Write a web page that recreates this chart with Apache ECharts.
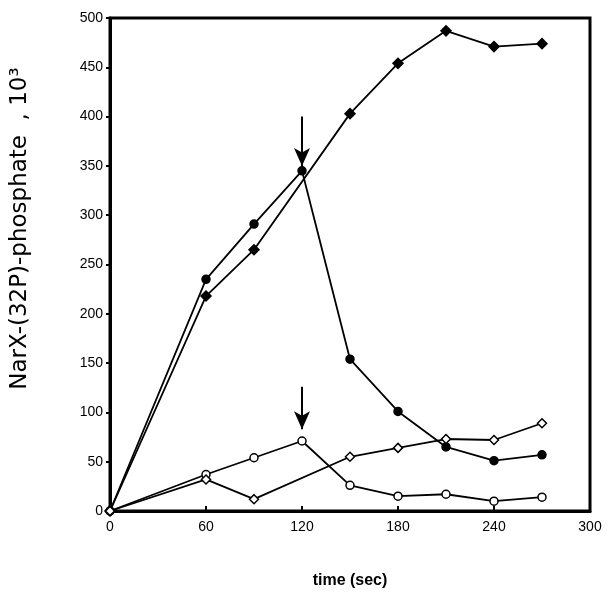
<!DOCTYPE html>
<html><head><meta charset="utf-8">
<script src="https://cdn.jsdelivr.net/npm/echarts@6/dist/echarts.min.js"></script>
<style>html,body{margin:0;padding:0;background:#fff}#c{width:609px;height:602px}</style>
</head><body><div id="c"></div>
<script>
const xTicks = [0, 60, 120, 180, 240, 300];
const yTicks = [0, 50, 100, 150, 200, 250, 300, 350, 400, 450, 500];
const filledCircle = [[0,0],[60,235],[90,291],[120,345],[150,154],[180,101],[210,65],[240,51],[270,57]];
const filledDiamond = [[0,0],[60,218],[90,265],[150,403],[180,454],[210,487],[240,471],[270,474]];
const openCircle = [[0,0],[60,37],[90,54],[120,71],[150,26],[180,15],[210,17],[240,10],[270,14]];
const openDiamond = [[0,0],[60,32],[90,12],[150,55],[180,64],[210,73],[240,72],[270,89]];
const arrows = [[[120,400],[120,350]],[[120,126],[120,83]]];

const chart = echarts.init(document.getElementById('c'));
function ser(data, sym, size, fill){
  return {type:'line', data, symbol:sym, symbolSize:size, showAllSymbol:true,
    lineStyle:{color:'#000', width:1.8}, itemStyle:{color:fill, borderColor:'#000', borderWidth:1.5},
    z:3, animation:false};
}
const series = [
  ser(filledCircle,'circle',8,'#000'),
  ser(filledDiamond,'diamond',10,'#000'),
  ser(openCircle,'circle',8,'#fff'),
  ser(openDiamond,'diamond',9,'#fff')
];
series.push({type:'line', data:[], markLine:{silent:true, symbol:['none','arrow'], symbolSize:[12,18],
  label:{show:false}, lineStyle:{color:'#000', width:2, type:'solid'},
  data: arrows.map(a=>[{coord:a[0]},{coord:a[1]}])}, animation:false});
chart.setOption({
  animation:false,
  grid:{left:110, right:19, top:18, bottom:91, show:true, borderColor:'#000', borderWidth:3},
  xAxis:{type:'value', min:0, max:300, interval:60,
    name:'time (sec)', nameLocation:'middle', nameGap:62,
    nameTextStyle:{fontFamily:'Liberation Sans', fontWeight:'bold', fontSize:16, color:'#000'},
    axisLine:{lineStyle:{color:'#000', width:3}},
    axisTick:{inside:true, length:5, lineStyle:{color:'#000', width:2}},
    axisLabel:{fontFamily:'Liberation Sans', fontSize:14, color:'#000', margin:9},
    splitLine:{show:false}},
  yAxis:{type:'value', min:0, max:500, interval:50,
    name:'NarX-(32P)-phosphate  , 10³', nameLocation:'middle', nameGap:78,
    nameTextStyle:{fontFamily:'DejaVu Sans', fontSize:23, color:'#000', padding:[0,0,0,72]},
    axisLine:{lineStyle:{color:'#000', width:3}},
    axisTick:{length:4, lineStyle:{color:'#000', width:2}},
    axisLabel:{fontFamily:'Liberation Sans', fontSize:14, color:'#000', margin:7},
    splitLine:{show:false}},
  series
});
</script></body></html>
